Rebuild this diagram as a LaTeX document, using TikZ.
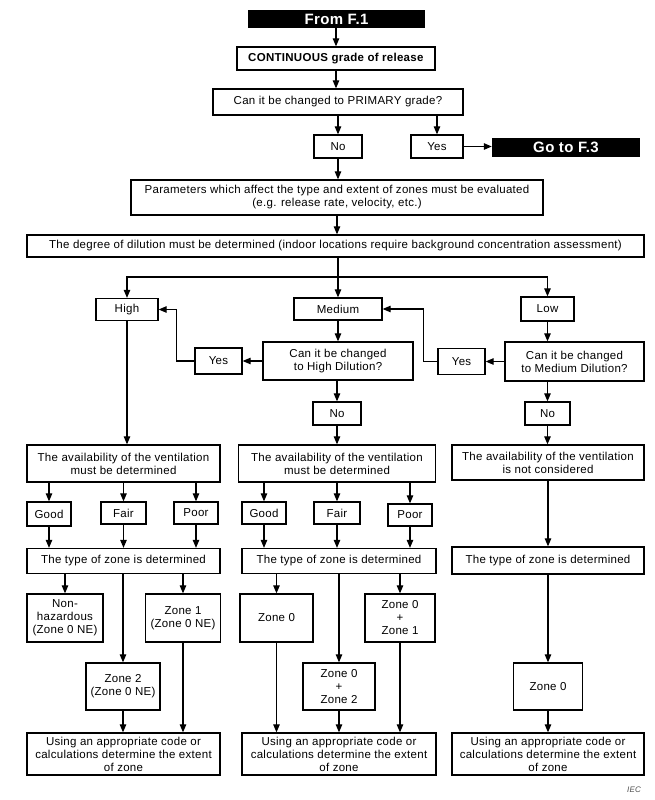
\documentclass[tikz,border=0pt]{standalone}
\usepackage{fontspec}
\setmainfont{Liberation Sans}[LetterSpace=2.5]
\usetikzlibrary{arrows.meta,calc}

\begin{document}
\begin{tikzpicture}[x=1pt,y=-1pt,
  bx/.style={draw=black, line width=1.3pt, fill=white, align=center, inner sep=1pt,
             font=\fontsize{11.5}{13}\selectfont},
  blk/.style={fill=black, text=white, inner sep=1pt, font=\bfseries\fontsize{15}{16}\selectfont},
  ar/.style={-{Triangle[length=8pt,width=6.5pt]}, line width=1.1pt}]
\useasboundingbox (0,0) rectangle (655,800);
% top part
\node[blk, minimum width=177, minimum height=18] (from) at (336.5,19) {From F.1};
\node[bx, minimum width=198, minimum height=23] (cont) at (336,58.5) {\textbf{CONTINUOUS grade of release}};
\node[bx, minimum width=250, minimum height=26] (prim) at (338,102) {Can it be changed to PRIMARY grade?};
\node[bx, minimum width=48, minimum height=23] (no1) at (338,146.5) {No};
\node[bx, minimum width=52, minimum height=23] (yes1) at (437,146.5) {Yes};
\node[blk, minimum width=148, minimum height=19] (go) at (566,147.5) {Go to F.3};
\node[bx, minimum width=412, minimum height=35] (par) at (337,197.5)
  {Parameters which affect the type and extent of zones must be evaluated\\(e.g. release rate, velocity, etc.)};
\node[bx, minimum width=617, minimum height=22] (deg) at (335.5,246)
  {The degree of dilution must be determined (indoor locations require background concentration assessment)};
\coordinate (br) at (338,277);
% dilution
\node[bx, minimum width=62, minimum height=22] (high) at (127,309.5) {High};
\node[bx, minimum width=88, minimum height=22] (med) at (338,309) {Medium};
\node[bx, minimum width=53, minimum height=24] (low) at (547.5,309) {Low};
\node[bx, minimum width=150, minimum height=38] (chd) at (338,361) {Can it be changed\\to High Dilution?};
\node[bx, minimum width=47, minimum height=26] (yesl) at (218.5,361) {Yes};
\node[bx, minimum width=139, minimum height=39] (cmd) at (574.5,361.5) {Can it be changed\\to Medium Dilution?};
\node[bx, minimum width=47, minimum height=26] (yesr) at (461.5,361.5) {Yes};
\node[bx, minimum width=48, minimum height=23] (no2) at (337,413.5) {No};
\node[bx, minimum width=45, minimum height=23] (no3) at (547.5,413.5) {No};
% ventilation
\node[bx, minimum width=193, minimum height=37] (av1) at (123.5,463.5) {The availability of the ventilation\\must be determined};
\node[bx, minimum width=197, minimum height=37] (av2) at (337,463.5) {The availability of the ventilation\\must be determined};
\node[bx, minimum width=192, minimum height=35] (av3) at (548,462.5) {The availability of the ventilation\\is not considered};
\node[bx, minimum width=44, minimum height=24] (good1) at (49,514) {Good};
\node[bx, minimum width=45, minimum height=22] (fair1) at (123.5,513) {Fair};
\node[bx, minimum width=44, minimum height=22] (poor1) at (196,513) {Poor};
\node[bx, minimum width=44, minimum height=22] (good2) at (264,513) {Good};
\node[bx, minimum width=46, minimum height=22] (fair2) at (337,513) {Fair};
\node[bx, minimum width=44, minimum height=22] (poor2) at (410,515) {Poor};
\node[bx, minimum width=193, minimum height=25] (ty1) at (123.5,561) {The type of zone is determined};
\node[bx, minimum width=194, minimum height=25] (ty2) at (339,561) {The type of zone is determined};
\node[bx, minimum width=192, minimum height=27] (ty3) at (548,560.5) {The type of zone is determined};
% zones
\node[bx, minimum width=76, minimum height=48] (nh) at (65,618) {Non-\\hazardous\\(Zone 0 NE)};
\node[bx, minimum width=75, minimum height=48] (z1) at (183,618) {Zone 1\\(Zone 0 NE)};
\node[bx, minimum width=73, minimum height=48] (z0m) at (276.5,618) {Zone 0};
\node[bx, minimum width=70, minimum height=48] (z01) at (400,618) {Zone 0\\+\\Zone 1};
\node[bx, minimum width=74, minimum height=47] (z2) at (123,686.5) {Zone 2\\(Zone 0 NE)};
\node[bx, minimum width=72, minimum height=47] (z02) at (339,686.5) {Zone 0\\+\\Zone 2};
\node[bx, minimum width=69, minimum height=47] (z0r) at (548,686.5) {Zone 0};
\node[bx, minimum width=193, minimum height=42] (us1) at (123.5,754) {Using an appropriate code or\\calculations determine the extent\\of zone};
\node[bx, minimum width=194, minimum height=42] (us2) at (339,754) {Using an appropriate code or\\calculations determine the extent\\of zone};
\node[bx, minimum width=192, minimum height=42] (us3) at (548,754) {Using an appropriate code or\\calculations determine the extent\\of zone};
\node[font=\itshape\fontsize{8}{9}\selectfont, text=black!70] (iec) at (634,790) {IEC};
% connectors
\draw[ar] (cont |- from.south) -- (cont);
\draw[ar] (cont) -- (cont |- prim.north);
\draw[ar] (no1 |- prim.south) -- (no1);
\draw[ar] (yes1 |- prim.south) -- (yes1);
\draw[ar] (yes1.east) -- (yes1.east -| go.west);
\draw[ar] (no1) -- (no1 |- par.north);
\draw[ar] (par) -- (par |- deg.north);
\draw[ar] (deg.south -| br) -- (med);
\draw[ar] (br) -| (high);
\draw[ar] (br) -| (low);
\draw[ar] (med) -- (chd);
\draw[ar] (chd.west) -- (yesl.east);
\draw[ar] (yesl.west) -- ++(-18,0) |- (high.east);
\draw[ar] (low) -- (low |- cmd.north);
\draw[ar] (cmd.west) -- (cmd.west -| yesr.east);
\draw[ar] (yesr.west) -- ++(-14,0) |- (med.east);
\draw[ar] (no2 |- chd.south) -- (no2);
\draw[ar] (no3 |- cmd.south) -- (no3);
\draw[ar] (high) -- (high |- av1.north);
\draw[ar] (no2) -- (no2 |- av2.north);
\draw[ar] (no3) -- (no3 |- av3.north);
\foreach \v in {good1,fair1,poor1} {
  \draw[ar] (\v |- av1.south) -- (\v);
  \draw[ar] (\v) -- (\v |- ty1.north);
}
\foreach \v in {good2,fair2,poor2} {
  \draw[ar] (\v |- av2.south) -- (\v);
  \draw[ar] (\v) -- (\v |- ty2.north);
}
\draw[ar] (av3) -- (av3 |- ty3.north);
\draw[ar] (nh |- ty1.south) -- (nh);
\draw[ar] (z1 |- ty1.south) -- (z1);
\draw[ar] (z2 |- ty1.south) -- (z2);
\draw[ar] (z2) -- (z2 |- us1.north);
\draw[ar] (z1) -- (z1 |- us1.north);
\draw[ar] (z0m |- ty2.south) -- (z0m);
\draw[ar] (z01 |- ty2.south) -- (z01);
\draw[ar] (z02 |- ty2.south) -- (z02);
\draw[ar] (z0m) -- (z0m |- us2.north);
\draw[ar] (z02) -- (z02 |- us2.north);
\draw[ar] (z01) -- (z01 |- us2.north);
\draw[ar] (z0r |- ty3.south) -- (z0r);
\draw[ar] (z0r) -- (z0r |- us3.north);
\end{tikzpicture}
\end{document}
